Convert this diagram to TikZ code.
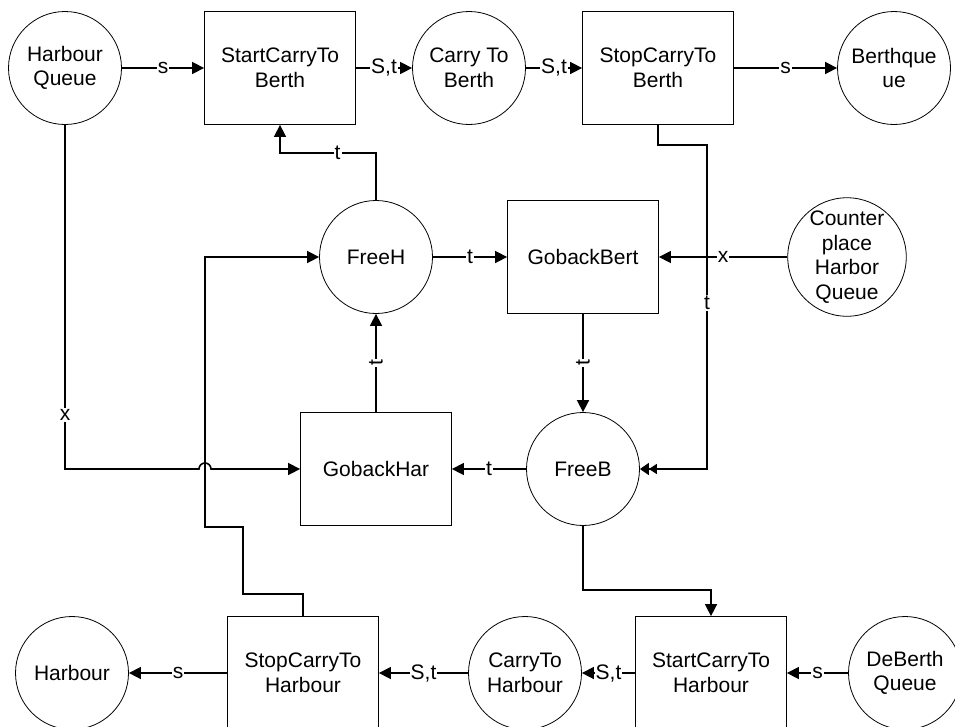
\documentclass[tikz,border=0pt]{standalone}
\usepackage{fontspec}
\setmainfont{Liberation Sans}
\usetikzlibrary{arrows.meta}
\newcommand{\diafont}{\fontsize{21}{24.5}\selectfont}
\begin{document}
\begin{tikzpicture}[x=1pt,y=-1pt,
  place/.style={circle,draw,line width=0.8pt,minimum size=113pt,inner sep=0pt,align=center,font=\diafont},
  trans/.style={rectangle,draw,line width=0.8pt,minimum width=151pt,minimum height=113pt,inner sep=0pt,align=center,font=\diafont},
  arc/.style={line width=1.6pt,-{Triangle[length=12pt,width=12pt]}},
  arcdbl/.style={line width=1.6pt,-{Triangle[length=8pt,width=10pt]Triangle[length=9pt,width=12pt]}},
  lab/.style={fill=white,inner sep=1pt,font=\diafont}
]
\useasboundingbox (0,0) rectangle (955,726);
\clip (0,0) rectangle (955,726);

% places and transitions
\node[place] (hq)   at (65,68)  {Harbour\\Queue};
\node[trans] (sctb) at (280,68) {StartCarryTo\\Berth};
\node[place] (ctb)  at (469,68) {Carry To\\Berth};
\node[trans] (stcb) at (658,68) {StopCarryTo\\Berth};
\node[place] (bq)   at (894,68) {Berthque\\ue};

\node[place] (freeh) at (376,257) {FreeH};
\node[trans] (gbb)   at (583,257) {GobackBert};
\node[place] (cphq)  at (847,257) {Counter\\place\\Harbor\\Queue};

\node[trans] (gbh)   at (376,469) {GobackHar};
\node[place] (freeb) at (583,469) {FreeB};

\node[place] (harb) at (72,673)  {Harbour};
\node[trans] (stch) at (303,673) {StopCarryTo\\Harbour};
\node[place] (cth)  at (525,673) {CarryTo\\Harbour};
\node[trans] (scth) at (711,673) {StartCarryTo\\Harbour};
\node[place] (dbq)  at (905,673) {DeBerth\\Queue};

% bend points
\coordinate (k1) at (376,153);
\coordinate (k2) at (707,145);
\coordinate (k3) at (65,469);
\coordinate (k4) at (243,594);
\coordinate (k5) at (205,527);
\coordinate (k6) at (583,590);

% top row
\draw[arc] (hq) -- node[lab]{s} (sctb);
\draw[arc] (sctb) -- node[lab]{S,t} (ctb);
\draw[arc] (ctb) -- node[lab]{S,t} (stcb);
\draw[arc] (stcb) -- node[lab]{s} (bq);

% middle
\draw[arc] (freeh.north) -- (k1) -| node[lab,pos=0.2]{t} (sctb.south);
\draw[arc] (freeh) -- node[lab]{t} (gbb);
\draw[arc] (cphq) -- node[lab]{x} (gbb);
\draw[arcdbl] (stcb.south) |- (k2) |- (freeb.east);
\node[lab] at (707,303) {t};
\draw[arc] (gbb.south) -- node[lab,rotate=90]{t} (freeb.north);
\draw[arc] (gbh.north) -- node[lab,rotate=90]{t} (freeh.south);
\draw[arc] (freeb) -- node[lab]{t} (gbh);

% return of the harbour queue, hopping over the vertical line
\draw[arc] (hq.south) -- (k3) -- (199,469) arc[start angle=180,end angle=360,radius=6] -- (gbh.west);
\node[lab] at (65,415) {x};

% from StopCarryToHarbour back to FreeH
\draw[arc] (stch.north) |- (k4) |- (k5) |- (freeh.west);

% from FreeB to StartCarryToHarbour
\draw[arc] (freeb.south) -- (k6) -| (scth.north);

% bottom row
\draw[arc] (dbq) -- node[lab]{s} (scth);
\draw[arc] (scth) -- node[lab]{S,t} (cth);
\draw[arc] (cth) -- node[lab]{S,t} (stch);
\draw[arc] (stch) -- node[lab]{s} (harb);
\end{tikzpicture}
\end{document}
